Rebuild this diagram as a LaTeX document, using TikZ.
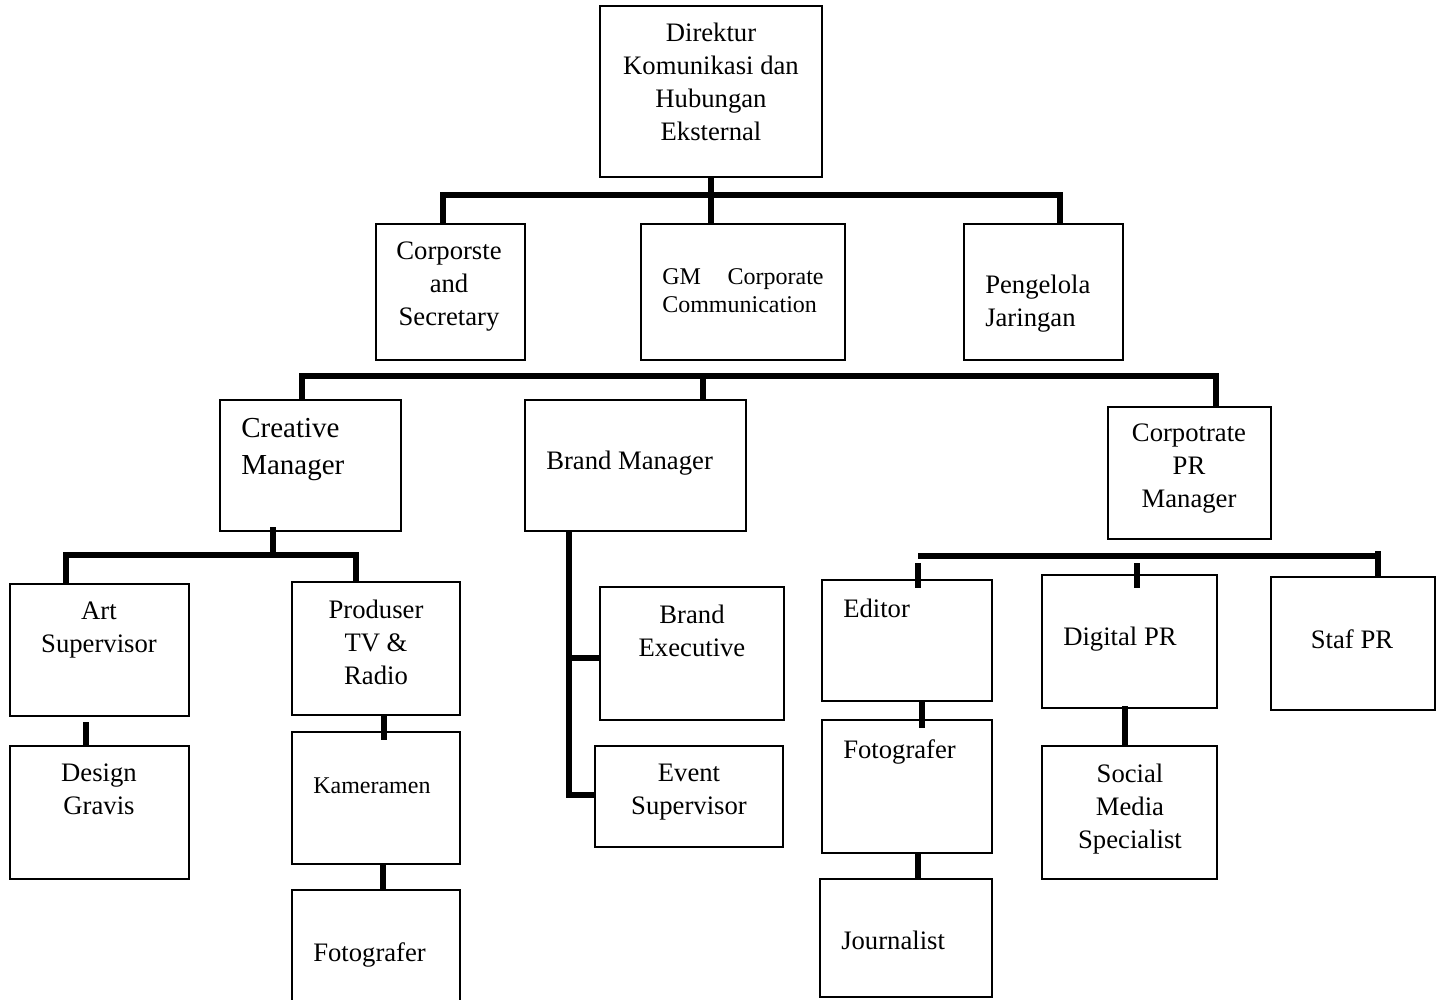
\documentclass[tikz,border=0pt]{standalone}
\usepackage{fontspec}
\setmainfont{Liberation Serif}
\usetikzlibrary{calc}
\newcommand\bx[5]{\node[box, minimum width=#4*0.75pt, minimum height=#5*0.75pt] (#1) at (#2,#3) {};}
\begin{document}
\begin{tikzpicture}[x=0.75pt,y=-0.75pt,
  box/.style={draw, line width=1.4pt, inner sep=0pt, outer sep=0pt, anchor=north west},
  conn/.style={line width=4.4pt},
  tx/.style={inner sep=0pt, font=\fontsize{20}{24.75}\selectfont, align=center},
  txleft/.style={inner sep=0pt, font=\fontsize{20}{24.75}\selectfont, align=left},
  txs/.style={inner sep=0pt, font=\fontsize{18}{21}\selectfont, align=left},
  txl/.style={inner sep=0pt, font=\fontsize{21.75}{27.75}\selectfont, align=left}]
\useasboundingbox[fill=white] (0,0) rectangle (1443,1000);

% boxes
\bx{dir}{600}{6}{222}{171}
\bx{corp}{376}{224}{149}{136}
\bx{gm}{641}{224}{204}{136}
\bx{peng}{964}{224}{159}{136}
\bx{cm}{220}{400}{181}{131}
\bx{bm}{525}{400}{221}{131}
\bx{pr}{1108}{407}{163}{132}
\bx{art}{10}{584}{179}{132}
\bx{prod}{292}{582}{168}{133}
\bx{des}{10}{746}{179}{133}
\bx{kam}{292}{732}{168}{132}
\bx{foa}{292}{890}{168}{120}
\bx{be}{600}{587}{184}{133}
\bx{ev}{595}{746}{188}{101}
\bx{ed}{822}{580}{170}{121}
\bx{fob}{822}{720}{170}{133}
\bx{jour}{820}{879}{172}{118}
\bx{dig}{1042}{575}{175}{133}
\bx{soc}{1042}{746}{175}{133}
\bx{staf}{1271}{577}{164}{133}

% texts
\node[tx, anchor=north] (dir-t) at (711,23) {Direktur\\Komunikasi dan\\Hubungan\\Eksternal};
\node[tx, anchor=north] (corp-t) at (449,242) {Corporste\\and\\Secretary};
\node[txs, anchor=north west] (gm-t) at (662,268) {\hbox to 121pt{GM\hfill Corporate}\\Communication};
\node[txleft, anchor=north west] (peng-t) at (985,275) {Pengelola\\Jaringan};
\node[txl, anchor=north west] (cm-t) at (241,418) {Creative\\Manager};
\node[txleft, anchor=north west] (bm-t) at (546,451) {Brand Manager};
\node[tx, anchor=north] (pr-t) at (1189,424) {Corpotrate\\PR\\Manager};
\node[tx, anchor=north] (art-t) at (99,602) {Art\\Supervisor};
\node[tx, anchor=north] (prod-t) at (376,600) {Produser\\TV \&\\Radio};
\node[tx, anchor=north] (des-t) at (99,764) {Design\\Gravis};
\node[txs, anchor=north west] (kam-t) at (313,778) {Kameramen};
\node[txleft, anchor=north west] (foa-t) at (313,942) {Fotografer};
\node[tx, anchor=north] (be-t) at (692,605) {Brand\\Executive};
\node[tx, anchor=north] (ev-t) at (689,764) {Event\\Supervisor};
\node[txleft, anchor=north west] (ed-t) at (843,599) {Editor};
\node[txleft, anchor=north west] (fob-t) at (843,739) {Fotografer};
\node[txleft, anchor=north west] (jour-t) at (841,931) {Journalist};
\node[txleft, anchor=north west] (dig-t) at (1063,627) {Digital PR};
\node[tx, anchor=north] (soc-t) at (1130,764) {Social\\Media\\Specialist};
\node[tx, anchor=north] (staf-t) at (1352,629) {Staf PR};

% connectors
\coordinate (j1) at (711,195);
\draw[conn] (dir.south) -- ($(gm.north)+(-32,0)$);
\draw[conn] ($(corp.north)+(-7.5,0)$) |- (j1) -| ($(peng.north)+(16.5,0)$);

\coordinate (j2) at (703,376);
\draw[conn] ($(cm.north)+(-8.5,0)$) |- (j2) -| ($(pr.north)+(26.5,0)$);
\draw[conn] (j2) -- ($(bm.north)+(67.5,0)$);

\coordinate (j3) at (273,555);
\draw[conn] ($(cm.south)+(-37.5,-4)$) -- (j3);
\draw[conn] ($(art.north)+(-33.5,0)$) |- (j3) -| ($(prod.north)+(-20,0)$);
\draw[conn] ($(art.south)+(-13.5,6)$) -- ($(des.north)+(-13.5,0)$);
\draw[conn] ($(prod.south)+(8,0)$) -- ($(kam.north)+(8,8)$);
\draw[conn] ($(kam.south)+(7,0)$) -- ($(foa.north)+(7,0)$);

\draw[conn] ($(bm.south)+(-66.5,0)$) |- ($(ev.west)+(0,-1.5)$);
\draw[conn] ($(be.west)+(-31,4.5)$) -- ($(be.west)+(0,4.5)$);

\draw[conn] ($(ed.north)+(11,-24)$) -- ($(staf.north)+(25,-21)$);
\draw[conn] ($(staf.north)+(25,-26)$) -- ($(staf.north)+(25,0)$);
\draw[conn] ($(ed.north)+(11,-17)$) -- ($(ed.north)+(11,8)$);
\draw[conn] ($(dig.north)+(7.5,-12)$) -- ($(dig.north)+(7.5,13)$);
\draw[conn] ($(ed.south)+(15,0)$) -- ($(fob.north)+(15,8)$);
\draw[conn] ($(fob.south)+(11,0)$) -- ($(jour.north)+(12,0)$);
\draw[conn] ($(dig.south)+(-4.5,-2)$) -- ($(soc.north)+(-4.5,0)$);
\end{tikzpicture}
\end{document}
